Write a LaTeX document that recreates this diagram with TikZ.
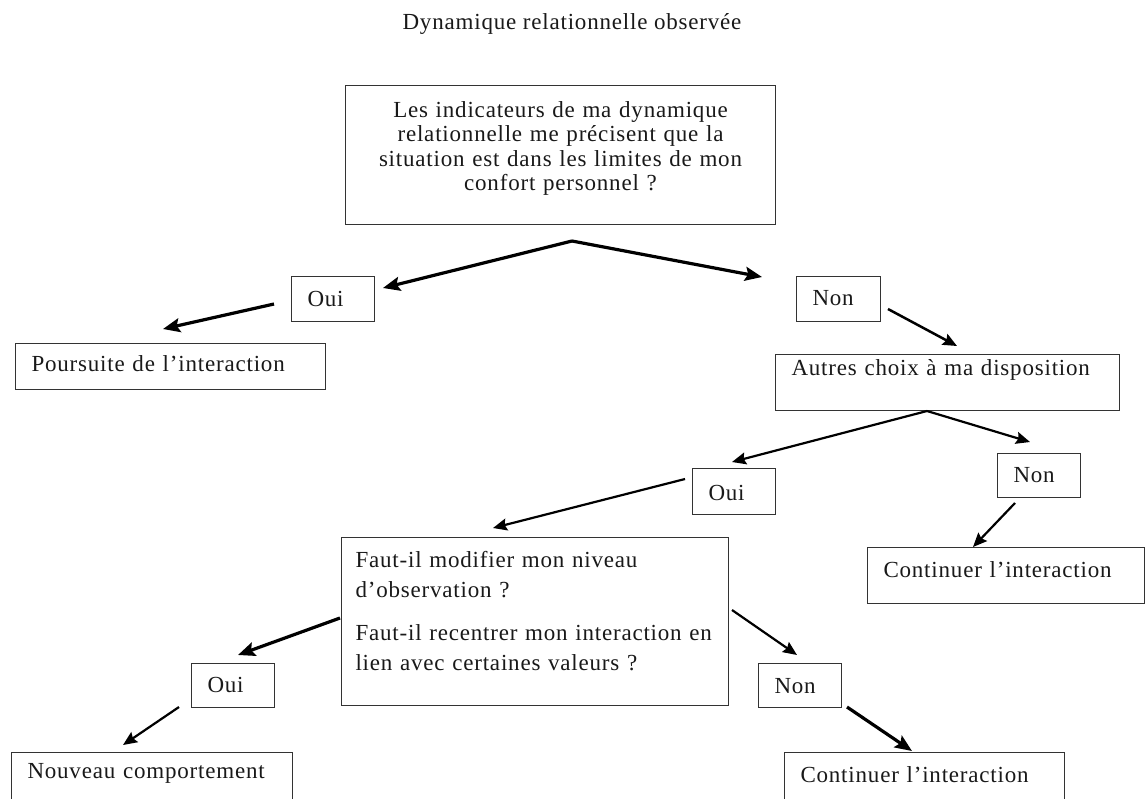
\documentclass[tikz,border=0pt]{standalone}
\usepackage{fontspec}
\setmainfont[LetterSpace=3.5]{Liberation Serif}
\usetikzlibrary{arrows.meta}

\begin{document}
\begin{tikzpicture}[x=1pt,y=-1pt,
  every node/.style={font=\fontsize{23}{24.3}\selectfont, text=black!90},
  box/.style={draw=black!80, line width=1pt, anchor=north west,
    inner xsep=16pt, inner ysep=0pt, align=left},
  link/.style={-{Stealth[length=14pt,width=12pt,inset=2pt]}, line width=2.2pt},
  heavy/.style={-{Stealth[length=17pt,width=14pt,inset=3pt]}, line width=3.2pt}]

\useasboundingbox (0,0) rectangle (1145,798);
\fill[white] (0,0) rectangle (1145,798);
\clip (0,0) rectangle (1145,798);

% heading
\node (title) [anchor=base] at (572,29) {Dynamique relationnelle observée};

% first question
\node (top) [box, inner xsep=10pt, text width=410pt, align=center] at (345,85)
  {\rule{0pt}{32pt}Les indicateurs de ma dynamique\\
   relationnelle me précisent que la\\
   situation est dans les limites de mon\\
   confort personnel ?\rule[-34pt]{0pt}{34pt}};

% first level answers
\node (oui1)  [box, text width=51pt,  text height=30pt, text depth=15pt] at (291,276) {Oui};
\node (non1)  [box, text width=52pt,  text height=29pt, text depth=16pt] at (796,276) {Non};
\node (pours) [box, text width=278pt, text height=28pt, text depth=18pt] at (15,343) {Poursuite de l’interaction};
\node (autres)[box, text width=312pt, text height=21pt, text depth=35pt] at (775,354) {Autres choix à ma disposition};

% second level
\node (oui2)  [box, text width=51pt,  text height=32pt, text depth=14pt] at (692,468) {Oui};
\node (non2)  [box, text width=51pt,  text height=29pt, text depth=15pt] at (997,453) {Non};
\node (cont1) [box, text width=245pt, text height=30pt, text depth=26pt] at (867,547) {Continuer l’interaction};

\node (faut) [box, inner xsep=14pt, text width=359pt,
  font=\fontsize{23}{30}\selectfont] at (341,537)
  {\rule{0pt}{30pt}Faut-il modifier mon niveau\\
   d’observation ?\\[13pt]
   Faut-il recentrer mon interaction en\\
   lien avec certaines valeurs ?\rule[-35pt]{0pt}{35pt}};

% third level
\node (oui3)  [box, text width=51pt,  text height=29pt, text depth=15pt] at (191,663) {Oui};
\node (non3)  [box, text width=51pt,  text height=30pt, text depth=14pt] at (758,663) {Non};
\node (nouv)  [box, text width=249pt, text height=26pt, text depth=32pt] at (11,752) {Nouveau comportement};
\node (cont2) [box, text width=248pt, text height=30pt, text depth=28pt] at (784,752) {Continuer l’interaction};

% arrow end points
\coordinate (apexA) at (572,241);
\coordinate (tA1) at (383,288);
\coordinate (tA2) at (762,277);
\coordinate (sB) at (274,304);
\coordinate (tB) at (163,329);
\coordinate (sC) at (888,309);
\coordinate (tC) at (957,346);
\coordinate (apexD) at (927,411);
\coordinate (tD1) at (732,462);
\coordinate (tD2) at (1030,442);
\coordinate (sE) at (1015,503);
\coordinate (tE) at (973,547);
\coordinate (sF) at (685,479);
\coordinate (tF) at (493,528);
\coordinate (sG) at (340,618);
\coordinate (tG) at (238,655);
\coordinate (sH) at (732,610);
\coordinate (tH) at (797,655);
\coordinate (sI) at (179,707);
\coordinate (tI) at (123,745);
\coordinate (sJ) at (847,707);
\coordinate (tJ) at (912,751);

% arrows
\draw[heavy] (apexA) -- (tA1);
\draw[heavy] (apexA) -- (tA2);
\draw[heavy] (sB) -- (tB);
\draw[link, line width=2.5pt] (sC) -- (tC);
\draw[link] (apexD) -- (tD1);
\draw[link] (apexD) -- (tD2);
\draw[link] (sE) -- (tE);
\draw[link] (sF) -- (tF);
\draw[heavy] (sG) -- (tG);
\draw[link] (sH) -- (tH);
\draw[link] (sI) -- (tI);
\draw[heavy] (sJ) -- (tJ);
\end{tikzpicture}
\end{document}
